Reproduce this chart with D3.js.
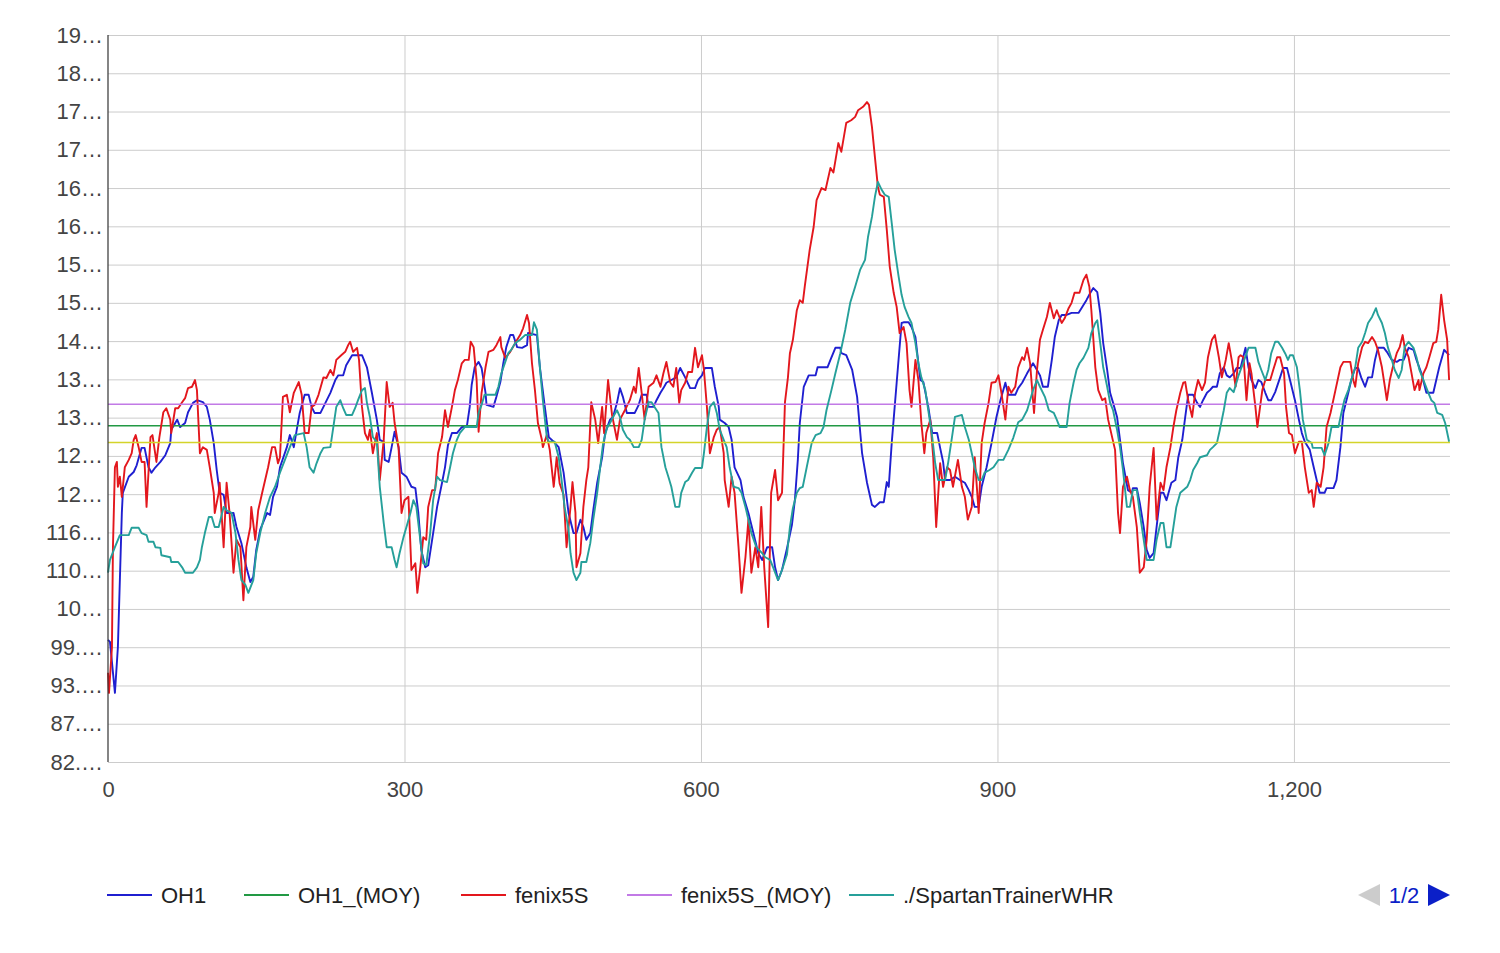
<!DOCTYPE html>
<html><head><meta charset="utf-8">
<script src="https://cdn.jsdelivr.net/npm/d3@7"></script>
<style>
body{margin:0;background:#fff;}
text{font-family:"Liberation Sans",Arial,Helvetica,sans-serif;}
</style></head><body>
<svg id="chart" width="1500" height="953"></svg>
<script>
const yTickValues = [82.1, 87.8, 93.5, 99.2, 104.9, 110.6, 116.3, 122.0, 127.7, 133.4, 139.1, 144.8, 150.5, 156.2, 161.9, 167.6, 173.3, 179.0, 184.7, 190.4];
const yTickLabels = ["82.…","87.…","93.…","99.…","10…","110…","116…","12…","12…","13…","13…","14…","15…","15…","16…","16…","17…","17…","18…","19…"];
const xTickValues = [0, 300, 600, 900, 1200];
const xMax = 1357.9;
const seriesNames = ["OH1", "OH1_(MOY)", "fenix5S", "fenix5S_(MOY)", "./SpartanTrainerWHR"];
const pagerLabel = "1/2";

const oh1Moy = 132.2;
const fenix5SMoy = 135.4;
const spartanMoy = 129.7;

const oh1 = [[0,100.3],[2,100.0],[7,92.4],[10,99.2],[14,119.2],[15,122.2],[21,124.6],[26,125.3],[29,126.3],[34,128.9],[37,128.9],[41,126.0],[44,125.2],[48,126.0],[53,126.8],[58,127.8],[63,129.6],[64,131.6],[70,133.1],[73,132.0],[78,132.6],[81,134.2],[86,135.6],[90,136.0],[96,135.7],[100,135.0],[103,133.1],[107,129.6],[110,125.6],[113,122.2],[117,121.9],[120,119.2],[127,119.2],[130,117.1],[135,114.7],[140,111.1],[144,108.9],[147,109.7],[150,113.7],[154,116.7],[161,119.2],[164,118.9],[167,121.6],[171,123.1],[174,126.0],[181,129.0],[184,130.8],[188,129.0],[191,131.6],[194,134.1],[199,136.8],[203,136.8],[206,135.0],[209,134.1],[215,134.1],[220,135.6],[225,137.1],[230,139.0],[233,139.7],[238,139.7],[241,141.2],[247,142.7],[257,142.7],[262,140.9],[267,137.1],[272,133.1],[275,130.1],[279,129.8],[280,127.1],[284,126.8],[287,129.0],[290,131.3],[294,129.0],[297,125.2],[302,124.6],[307,123.1],[311,122.9],[314,119.2],[317,113.7],[321,111.1],[324,111.4],[329,116.2],[333,120.1],[338,123.7],[341,126.0],[344,129.3],[348,131.1],[353,131.1],[358,132.0],[363,132.0],[366,135.0],[368,138.3],[371,140.9],[375,141.7],[378,140.8],[382,137.1],[383,135.3],[390,135.0],[393,136.5],[397,138.7],[400,141.5],[403,143.9],[407,145.7],[410,145.7],[414,143.9],[419,143.8],[424,144.2],[425,146.0],[434,145.7],[437,140.9],[442,135.0],[446,130.5],[451,129.8],[456,129.0],[461,125.2],[466,119.2],[471,116.2],[474,116.2],[478,118.2],[481,117.1],[484,115.2],[488,116.2],[491,119.6],[495,123.7],[500,127.5],[503,131.1],[508,133.1],[511,133.5],[515,135.6],[518,137.8],[521,136.5],[525,134.1],[533,134.1],[537,135.3],[540,136.8],[545,136.8],[547,135.0],[552,135.0],[555,136.0],[559,137.1],[562,137.8],[565,138.6],[570,139.0],[575,139.4],[579,140.8],[584,139.4],[589,137.8],[594,137.8],[597,139.0],[601,139.7],[604,140.8],[611,140.8],[614,138.0],[618,135.0],[619,133.1],[624,132.6],[628,132.0],[631,130.1],[634,126.0],[640,124.1],[643,121.6],[648,119.2],[653,116.2],[658,113.2],[662,112.2],[667,114.1],[672,114.1],[675,111.1],[678,109.2],[682,110.7],[687,113.9],[692,117.4],[695,121.1],[698,127.1],[700,132.6],[704,138.0],[709,139.7],[716,139.7],[718,140.9],[728,140.9],[731,142.0],[736,143.8],[741,143.8],[742,143.0],[747,142.7],[753,140.5],[758,136.5],[763,128.1],[768,123.7],[773,120.4],[776,120.1],[781,120.8],[785,120.8],[788,123.8],[790,123.1],[793,129.6],[798,138.6],[803,147.5],[805,147.6],[810,147.6],[813,146.9],[817,145.4],[820,141.5],[822,139.0],[825,138.7],[830,135.0],[834,131.1],[839,131.1],[842,128.9],[845,126.8],[847,124.1],[852,124.1],[857,124.6],[862,124.1],[867,123.7],[871,122.6],[874,121.6],[877,120.1],[881,120.1],[884,123.1],[889,126.0],[894,129.6],[899,133.5],[903,136.0],[908,138.6],[911,136.8],[918,136.8],[921,137.8],[925,138.6],[930,140.0],[936,141.5],[940,140.5],[943,139.7],[946,138.0],[951,138.0],[955,142.0],[958,145.4],[962,147.9],[965,148.7],[970,148.7],[975,149.0],[982,149.0],[985,149.7],[990,150.9],[994,152.0],[997,152.7],[1001,152.1],[1004,149.0],[1007,144.5],[1011,140.5],[1014,137.1],[1017,135.6],[1021,133.5],[1024,130.1],[1027,126.6],[1032,122.6],[1036,122.2],[1037,122.9],[1041,122.9],[1044,120.7],[1048,117.1],[1051,113.7],[1054,112.5],[1058,113.2],[1061,117.1],[1065,122.2],[1068,122.2],[1071,121.1],[1076,123.7],[1080,124.1],[1083,127.5],[1087,130.1],[1090,133.5],[1093,136.8],[1098,136.8],[1102,135.6],[1105,135.0],[1108,136.0],[1112,137.1],[1115,137.5],[1118,138.0],[1122,138.0],[1125,140.0],[1129,140.9],[1132,139.7],[1135,139.4],[1139,140.0],[1142,140.8],[1146,140.8],[1151,143.8],[1154,140.9],[1157,139.0],[1161,137.8],[1164,139.0],[1167,138.7],[1171,137.1],[1174,136.0],[1177,136.0],[1181,137.2],[1186,139.4],[1189,140.8],[1193,140.8],[1196,139.0],[1201,136.0],[1205,133.1],[1208,131.1],[1211,129.8],[1216,128.6],[1220,126.0],[1223,124.1],[1226,122.2],[1231,122.2],[1233,122.9],[1240,122.9],[1243,124.1],[1247,129.0],[1250,134.1],[1255,137.1],[1258,139.0],[1262,140.8],[1265,140.8],[1268,139.4],[1272,138.0],[1275,139.4],[1279,139.4],[1282,142.0],[1285,143.8],[1291,143.8],[1294,143.2],[1299,142.0],[1304,141.7],[1307,142.0],[1311,142.0],[1316,143.8],[1321,143.5],[1324,142.0],[1329,140.0],[1334,137.1],[1341,137.1],[1344,139.0],[1347,140.9],[1352,143.5],[1357,142.7]];

const fenix5S = [[0,95.4],[1,92.4],[4,99.2],[5,114.1],[7,126.0],[9,126.8],[10,123.1],[12,124.6],[14,121.6],[17,126.0],[21,127.1],[24,128.1],[26,130.1],[28,130.8],[31,129.0],[34,126.8],[37,126.8],[39,120.1],[43,130.5],[45,130.8],[49,126.8],[52,130.5],[56,134.2],[59,134.8],[63,133.1],[64,131.1],[68,134.8],[71,134.8],[75,135.7],[78,136.3],[81,137.8],[85,138.0],[88,139.0],[90,137.5],[93,128.1],[96,129.0],[100,128.6],[103,126.0],[107,122.2],[108,119.2],[112,122.2],[113,123.7],[117,114.1],[120,123.7],[123,119.2],[127,110.3],[130,115.2],[134,114.1],[137,106.2],[140,114.1],[144,117.1],[145,120.1],[149,115.2],[152,119.6],[156,122.2],[159,124.1],[162,126.0],[166,129.0],[169,129.0],[172,126.6],[174,127.5],[177,136.5],[181,136.8],[184,134.2],[188,137.1],[193,138.7],[196,136.8],[199,131.1],[203,131.1],[206,135.0],[209,135.3],[213,136.8],[218,139.4],[221,139.3],[225,140.5],[228,139.7],[231,142.0],[236,142.7],[240,143.2],[243,144.2],[245,144.7],[248,143.2],[252,143.8],[254,142.0],[257,135.0],[260,131.1],[263,130.1],[265,131.6],[268,128.1],[272,131.1],[275,124.1],[279,130.1],[282,138.7],[285,135.0],[288,135.6],[290,132.6],[294,129.0],[297,119.2],[300,121.1],[304,121.6],[307,110.7],[311,111.7],[313,107.3],[316,111.1],[319,115.6],[322,115.2],[324,120.1],[328,122.6],[331,122.6],[334,128.1],[338,130.5],[341,134.5],[344,132.0],[348,135.0],[351,137.5],[354,139.0],[358,141.5],[361,142.0],[365,142.0],[367,144.7],[370,143.9],[373,139.0],[375,131.3],[378,137.1],[382,140.9],[385,143.2],[390,143.5],[393,144.2],[397,145.4],[398,143.9],[402,142.3],[407,143.2],[412,144.5],[417,145.7],[420,146.7],[424,148.7],[426,147.5],[429,141.5],[432,137.5],[435,132.6],[439,130.1],[440,129.0],[444,130.8],[447,128.6],[451,123.1],[454,127.5],[457,123.6],[461,121.9],[464,114.1],[468,120.1],[470,123.8],[473,119.2],[474,111.1],[478,113.2],[481,120.1],[484,124.1],[486,126.0],[489,135.7],[493,133.1],[496,129.6],[500,135.0],[502,131.1],[506,139.0],[510,133.8],[515,130.1],[518,133.1],[523,134.5],[528,136.0],[532,138.0],[534,137.1],[537,140.8],[540,137.1],[543,133.1],[547,138.0],[552,138.6],[555,139.7],[559,138.0],[562,140.0],[565,141.7],[569,138.6],[572,138.0],[575,140.8],[578,135.6],[580,137.5],[584,138.6],[587,140.2],[591,140.2],[594,143.8],[597,140.9],[601,142.7],[603,140.5],[606,135.0],[609,128.1],[613,130.5],[616,131.6],[619,132.0],[623,128.1],[624,124.1],[628,120.1],[631,124.6],[634,122.2],[638,114.1],[641,107.3],[645,112.6],[648,118.2],[651,110.3],[655,114.1],[658,111.1],[661,120.1],[664,111.1],[668,102.2],[671,122.2],[675,125.6],[678,121.1],[682,122.2],[685,135.7],[688,139.4],[690,143.0],[693,145.0],[697,149.4],[700,150.9],[703,150.5],[705,152.9],[710,158.4],[714,161.8],[717,165.8],[722,167.6],[726,167.3],[731,170.6],[734,169.9],[739,174.3],[742,173.0],[747,177.3],[752,177.7],[756,178.2],[759,179.2],[764,179.7],[768,180.4],[770,180.0],[773,176.7],[776,172.2],[779,167.8],[781,166.6],[785,166.3],[788,161.4],[791,155.9],[795,152.0],[798,149.9],[801,146.0],[805,146.9],[808,144.5],[811,137.5],[813,135.0],[817,142.0],[820,139.0],[823,132.6],[826,128.1],[828,131.1],[832,133.1],[835,127.5],[838,117.1],[842,126.6],[845,123.1],[849,126.0],[852,125.6],[855,123.1],[860,127.1],[864,123.1],[867,121.6],[870,118.2],[874,120.1],[877,127.5],[881,119.2],[884,129.6],[887,132.6],[891,135.6],[894,138.6],[898,138.7],[901,139.7],[904,137.1],[908,133.1],[911,138.0],[914,137.1],[918,138.0],[921,140.9],[925,142.4],[927,142.0],[930,143.8],[933,141.5],[937,134.1],[940,140.5],[943,145.0],[946,146.5],[950,148.4],[953,150.5],[957,148.2],[960,149.4],[965,147.5],[968,148.2],[972,149.7],[975,150.5],[978,152.0],[983,152.0],[987,153.9],[990,154.7],[993,152.9],[995,149.4],[999,140.9],[1002,137.5],[1006,136.0],[1009,136.3],[1012,133.1],[1016,130.5],[1019,128.6],[1022,119.2],[1024,116.2],[1027,123.1],[1031,124.6],[1034,122.6],[1037,121.6],[1041,117.1],[1044,110.3],[1048,111.1],[1051,115.2],[1054,123.1],[1058,128.9],[1061,118.2],[1065,123.7],[1068,122.6],[1071,126.0],[1075,129.0],[1078,132.0],[1081,134.5],[1085,137.1],[1088,138.6],[1090,138.7],[1093,136.0],[1097,133.5],[1100,137.1],[1103,139.0],[1107,137.5],[1110,138.6],[1113,142.4],[1117,145.0],[1120,145.7],[1124,142.4],[1127,139.4],[1131,142.0],[1134,144.5],[1137,142.0],[1141,138.0],[1144,142.4],[1146,142.7],[1149,142.4],[1152,136.0],[1155,141.5],[1157,140.0],[1161,135.0],[1163,132.0],[1168,137.5],[1171,139.0],[1176,139.0],[1179,140.5],[1183,142.4],[1186,142.4],[1190,140.0],[1192,135.0],[1195,131.1],[1198,130.8],[1201,128.1],[1205,129.8],[1208,129.8],[1211,126.0],[1215,122.2],[1218,122.6],[1220,120.1],[1223,123.7],[1227,123.1],[1230,126.0],[1233,132.0],[1237,134.1],[1242,137.5],[1247,140.9],[1250,141.7],[1257,141.7],[1260,139.0],[1262,138.0],[1265,141.5],[1269,143.9],[1272,144.7],[1275,144.5],[1279,145.4],[1282,144.7],[1285,143.5],[1289,140.9],[1292,138.0],[1294,136.0],[1297,139.0],[1300,140.9],[1304,143.0],[1307,143.9],[1310,145.7],[1312,143.9],[1316,142.4],[1319,140.0],[1322,137.5],[1326,139.0],[1327,137.5],[1331,140.0],[1334,140.9],[1337,142.4],[1341,144.5],[1344,144.7],[1346,146.5],[1349,151.7],[1352,147.9],[1355,145.0],[1357,139.0]];

const spartanTrainerWHR = [[0,110.3],[2,112.2],[7,114.1],[12,115.9],[21,115.9],[24,117.0],[31,117.0],[34,116.2],[39,115.9],[41,114.9],[46,114.9],[48,114.1],[53,114.0],[54,112.9],[63,112.6],[64,111.9],[71,111.9],[75,111.1],[78,110.3],[86,110.3],[90,111.1],[93,112.2],[95,114.1],[98,116.2],[102,118.6],[105,118.6],[108,117.1],[112,117.1],[117,120.1],[120,119.6],[125,119.2],[129,116.2],[132,112.2],[135,109.2],[139,108.5],[142,107.3],[147,109.2],[150,113.2],[154,116.2],[159,119.2],[164,121.6],[169,123.1],[174,125.2],[179,127.1],[184,129.0],[189,130.8],[198,131.1],[201,129.0],[204,126.0],[208,125.2],[211,126.6],[215,128.1],[218,128.9],[225,129.0],[228,132.0],[231,135.0],[235,136.0],[238,134.8],[241,133.8],[247,133.8],[250,134.8],[253,136.0],[257,137.5],[260,137.8],[262,135.6],[265,133.5],[268,130.5],[272,129.8],[275,123.1],[279,117.7],[282,114.1],[287,114.1],[290,112.2],[292,111.1],[295,113.2],[299,115.6],[302,117.1],[306,119.2],[309,121.1],[312,120.1],[316,115.2],[319,111.7],[322,111.4],[326,116.2],[329,121.1],[333,124.6],[336,124.1],[343,123.8],[346,125.9],[349,128.1],[353,130.1],[356,131.1],[361,132.0],[373,132.0],[375,134.1],[378,135.3],[381,136.8],[392,136.8],[395,138.0],[398,140.0],[402,141.7],[405,143.0],[408,143.5],[412,144.5],[417,145.0],[422,145.7],[429,145.7],[431,147.6],[434,146.5],[437,140.9],[440,136.0],[444,130.5],[446,129.8],[452,129.8],[456,127.5],[459,124.1],[462,120.1],[466,116.7],[468,113.2],[471,110.3],[474,109.2],[478,110.3],[479,111.9],[484,111.9],[488,114.7],[491,118.2],[495,122.2],[498,126.0],[501,129.6],[505,131.9],[508,132.6],[511,133.5],[515,134.5],[518,133.5],[521,131.6],[525,130.5],[528,130.1],[532,129.0],[537,129.0],[540,130.1],[543,133.1],[547,135.7],[550,135.7],[553,135.0],[557,134.1],[560,129.0],[564,126.0],[567,124.6],[570,123.1],[574,120.1],[578,120.1],[580,122.2],[584,123.8],[587,124.1],[591,125.2],[594,125.9],[601,125.9],[603,128.1],[606,132.0],[609,135.0],[613,135.7],[616,134.1],[619,131.6],[623,130.1],[626,129.0],[629,126.0],[633,123.1],[638,122.9],[641,122.2],[645,120.1],[648,118.2],[651,116.2],[656,114.1],[662,113.2],[665,112.6],[670,112.2],[673,111.1],[678,109.2],[682,110.7],[687,113.0],[690,117.1],[693,119.9],[697,122.2],[700,122.9],[703,123.1],[707,126.0],[712,129.6],[716,130.8],[721,131.1],[724,132.0],[727,134.5],[732,137.5],[736,140.0],[741,143.0],[746,146.5],[751,150.5],[756,152.9],[761,155.4],[766,156.9],[769,160.3],[773,163.3],[776,166.3],[779,168.5],[783,167.3],[786,166.6],[790,166.3],[793,162.4],[796,158.4],[800,154.4],[803,151.7],[806,149.9],[810,148.4],[813,147.5],[817,144.5],[820,141.5],[823,139.4],[827,137.5],[830,134.5],[834,130.5],[837,126.6],[840,124.1],[847,124.1],[850,126.6],[854,130.5],[857,133.5],[864,133.8],[867,132.0],[871,130.1],[874,128.1],[877,126.0],[881,124.1],[884,124.1],[887,125.2],[892,125.6],[896,126.0],[901,127.1],[906,127.1],[911,128.6],[916,130.4],[921,132.7],[925,133.1],[930,134.5],[933,136.0],[936,137.5],[940,139.0],[943,138.0],[948,136.5],[952,134.5],[957,134.1],[960,133.1],[963,132.0],[970,132.0],[973,135.6],[977,138.6],[980,140.5],[983,141.5],[987,142.3],[992,143.8],[995,146.0],[999,147.5],[1001,147.9],[1004,144.5],[1007,140.9],[1011,138.0],[1014,135.6],[1017,134.5],[1021,131.6],[1024,129.0],[1027,125.6],[1031,120.1],[1034,120.1],[1037,122.6],[1041,122.6],[1044,119.2],[1048,115.2],[1051,112.2],[1058,112.2],[1061,115.2],[1065,117.7],[1068,117.7],[1071,114.1],[1075,114.1],[1078,117.1],[1081,120.1],[1085,122.2],[1092,123.1],[1095,124.1],[1098,125.6],[1102,126.6],[1105,127.5],[1112,127.8],[1115,128.6],[1118,129.0],[1122,129.6],[1125,131.6],[1129,134.5],[1132,137.1],[1135,137.8],[1139,137.2],[1144,139.7],[1149,141.7],[1154,143.8],[1161,143.8],[1164,141.7],[1167,140.5],[1171,139.0],[1174,140.5],[1177,143.0],[1181,144.7],[1184,144.7],[1188,143.8],[1191,143.0],[1194,142.0],[1196,142.7],[1199,142.7],[1203,140.9],[1206,137.5],[1209,133.1],[1213,130.1],[1218,129.6],[1219,128.9],[1228,128.9],[1231,127.8],[1235,129.6],[1238,132.0],[1245,132.0],[1248,134.1],[1251,136.0],[1255,137.5],[1258,139.0],[1262,140.9],[1265,143.8],[1269,144.7],[1272,146.0],[1275,147.5],[1279,148.4],[1283,149.7],[1285,148.7],[1289,147.5],[1292,146.0],[1295,143.9],[1299,142.0],[1302,140.5],[1306,139.3],[1309,140.5],[1312,143.9],[1316,144.7],[1321,143.8],[1324,142.4],[1327,140.5],[1331,139.0],[1336,137.1],[1339,136.0],[1342,135.6],[1345,134.1],[1350,133.8],[1353,132.6],[1357,129.8]];

const colors = {oh1:"#1f1fd0", oh1Moy:"#229944", fenix:"#e3171d", fenixMoy:"#c27ae6", spartan:"#26a09a", spartanMoy:"#d4d42a"};

const svg = d3.select("#chart");
const plotL = 108, plotR = 1450, plotT = 35, plotB = 762;
const fontPx = 22;
const x = d3.scaleLinear().domain([0, xMax]).range([plotL, plotR]);
const y = d3.scaleLinear().domain([yTickValues[0], yTickValues[yTickValues.length-1]]).range([plotB, plotT]);

// horizontal gridlines
const gy = svg.append("g").attr("transform", `translate(${plotL},0)`)
  .call(d3.axisLeft(y).tickValues(yTickValues).tickSize(-(plotR-plotL)).tickFormat(""));
gy.select(".domain").remove();
gy.selectAll("line").attr("stroke", "#cccccc").attr("stroke-width", 1);

// vertical gridlines
const gx = svg.append("g").attr("transform", `translate(0,${plotB})`)
  .call(d3.axisBottom(x).tickValues(xTickValues.filter(d=>d>0)).tickSize(-(plotB-plotT)).tickFormat(""));
gx.select(".domain").remove();
gx.selectAll("line").attr("stroke", "#cccccc").attr("stroke-width", 1);

// y labels
const yl = svg.append("g").attr("transform", `translate(${plotL},0)`)
  .call(d3.axisLeft(y).tickValues(yTickValues).tickSize(0).tickPadding(5)
    .tickFormat((d,i)=>yTickLabels[i]));
yl.select(".domain").remove();
yl.selectAll("text").attr("font-size", fontPx).attr("fill", "#444");

// x labels
const xl = svg.append("g").attr("transform", `translate(0,${plotB})`)
  .call(d3.axisBottom(x).tickValues(xTickValues).tickSize(0).tickPadding(19).tickFormat(d3.format(",")));
xl.select(".domain").remove();
xl.selectAll("text").attr("font-size", fontPx).attr("fill", "#444");

const lineGen = d3.line().x(d=>x(d[0])).y(d=>y(d[1]));
const flat = v => [[0, v], [xMax, v]];

function drawSeries(data, color, w) {
  svg.append("path").datum(data).attr("d", lineGen)
    .attr("fill", "none").attr("stroke", color).attr("stroke-width", w)
    .attr("stroke-linejoin", "round");
}
drawSeries(oh1, colors.oh1, 1.9);
drawSeries(flat(oh1Moy), colors.oh1Moy, 1.6);
drawSeries(fenix5S, colors.fenix, 1.9);
drawSeries(flat(fenix5SMoy), colors.fenixMoy, 1.6);
drawSeries(spartanTrainerWHR, colors.spartan, 1.9);
drawSeries(flat(spartanMoy), colors.spartanMoy, 1.6);

// x=0 baseline
svg.append("line").attr("x1", x(0)).attr("x2", x(0)).attr("y1", plotT).attr("y2", plotB)
  .attr("stroke", "#333").attr("stroke-width", 1.2);

// legend
const legendColors = [colors.oh1, colors.oh1Moy, colors.fenix, colors.fenixMoy, colors.spartan];
const legendX = [107, 244, 461, 627, 849];
const ly = 895;
seriesNames.forEach((name, i) => {
  const lx = legendX[i];
  svg.append("line").attr("x1", lx).attr("x2", lx+45).attr("y1", ly).attr("y2", ly)
    .attr("stroke", legendColors[i]).attr("stroke-width", 1.8);
  svg.append("text").attr("x", lx+54).attr("y", ly+8).attr("font-size", fontPx)
    .attr("fill", "#222").text(name);
});

// pager
svg.append("path").attr("d", "M1380,884 L1358,895 L1380,906 Z").attr("fill", "#cccccc");
svg.append("text").attr("x", 1404).attr("y", ly+8).attr("text-anchor", "middle")
  .attr("font-size", fontPx).attr("fill", "#0b1fc8").text(pagerLabel);
svg.append("path").attr("d", "M1428,884 L1450,895 L1428,906 Z").attr("fill", "#0b1fc8");
</script>
</body></html>
